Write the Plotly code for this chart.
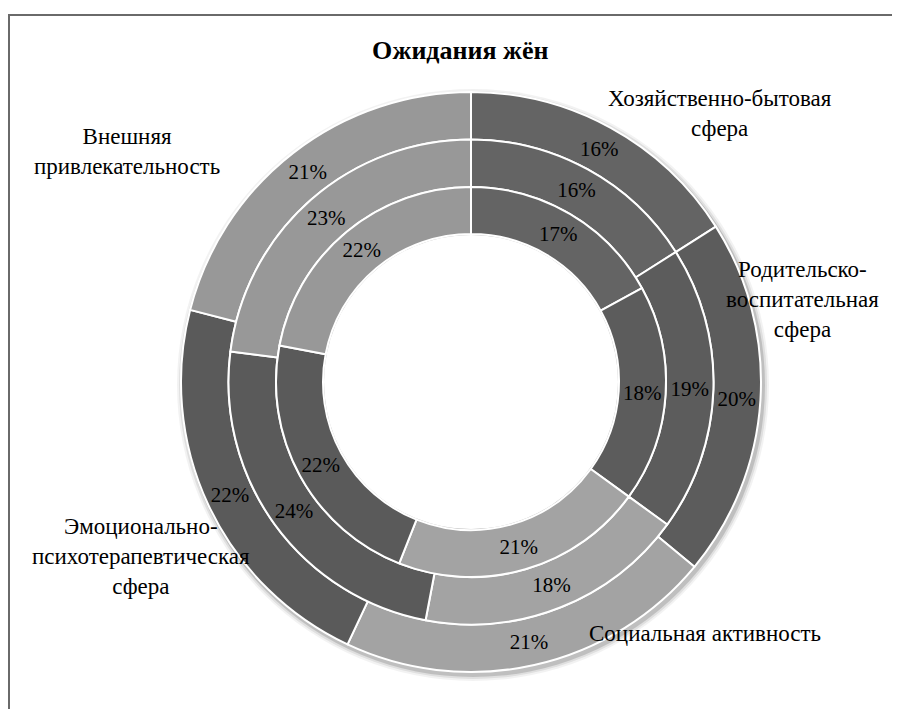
import plotly.graph_objects as go

categories = ["Хозяйственно-бытовая сфера", "Родительско-воспитательная сфера",
              "Социальная активность", "Эмоционально-психотерапевтическая сфера",
              "Внешняя привлекательность"]
outer_values = [16, 20, 21, 22, 21]
middle_values = [16, 19, 18, 24, 23]
inner_values = [17, 18, 21, 22, 22]
colors = ["#646464", "#5c5c5c", "#a3a3a3", "#5a5a5a", "#989898"]

W, H = 900, 709
OFF = 8  # page body margin
CX, CY = 471 - OFF, 382 - OFF
R_OUT, R_MID, R_IN, R_HOLE = 290, 242.5, 195, 148
SERIF = "'Liberation Serif', 'Times New Roman', 'DejaVu Serif', serif"


def px(x):
    return (x - OFF) / W


def py(y):
    return 1 - (y - OFF) / H


def domain(r):
    return dict(x=[(CX - r) / W, (CX + r) / W], y=[1 - (CY + r) / H, 1 - (CY - r) / H])


fig = go.Figure()
for vals, r, rin in [(outer_values, R_OUT, R_MID), (middle_values, R_MID, R_IN), (inner_values, R_IN, R_HOLE)]:
    fig.add_trace(go.Pie(
        labels=categories, values=vals, domain=domain(r), hole=rin / r,
        sort=False, direction="clockwise", rotation=0,
        marker=dict(colors=colors, line=dict(color="white", width=2)),
        texttemplate="%{value}%", textposition="inside", insidetextorientation="horizontal",
        textfont=dict(family=SERIF, size=21, color="black"),
        showlegend=False, hoverinfo="label+value",
    ))

# soft shadow around outer ring
for k, a in [(6, 0.05), (4, 0.08), (2, 0.14)]:
    fig.add_shape(type="circle", xref="paper", yref="paper", layer="below",
                  x0=(CX - R_OUT - k + 2) / W, x1=(CX + R_OUT + k + 2) / W,
                  y0=1 - (CY + R_OUT + k + 3) / H, y1=1 - (CY - R_OUT - k + 3) / H,
                  fillcolor=f"rgba(0,0,0,{a})", line=dict(width=0))
# keep the hole white
fig.add_shape(type="circle", xref="paper", yref="paper", layer="below",
              x0=(CX - R_HOLE + 1) / W, x1=(CX + R_HOLE - 1) / W,
              y0=1 - (CY + R_HOLE - 1) / H, y1=1 - (CY - R_HOLE + 1) / H,
              fillcolor="white", line=dict(width=0))

# frame
fig.add_shape(type="rect", xref="paper", yref="paper", x0=1 / W, x1=1.2, y0=-0.2, y1=py(15),
              line=dict(color="#6a6a6a", width=2), layer="below")

lab_font = dict(family=SERIF, size=23, color="black")
labels_pos = [
    ("Хозяйственно-бытовая<br>сфера", 720, 113),
    ("Родительско-<br>воспитательная<br>сфера", 802, 299),
    ("Социальная активность", 705, 633),
    ("Эмоционально-<br>психотерапевтическая<br>сфера", 141, 556),
    ("Внешняя<br>привлекательность", 127, 151),
]
for t, x, y in labels_pos:
    fig.add_annotation(text=t, x=px(x), y=py(y), xref="paper", yref="paper",
                       showarrow=False, font=lab_font, align="center",
                       xanchor="center", yanchor="middle")

fig.add_annotation(text="<b>Ожидания жён</b>", x=px(460), y=py(50), xref="paper", yref="paper",
                   showarrow=False, font=dict(family=SERIF, size=26, color="black"),
                   xanchor="center", yanchor="middle")

fig.update_layout(width=W, height=H, margin=dict(l=0, r=0, t=0, b=0),
                  paper_bgcolor="white", plot_bgcolor="white",
                  uniformtext=dict(minsize=21, mode="show"))
fig.write_html("out.html")
